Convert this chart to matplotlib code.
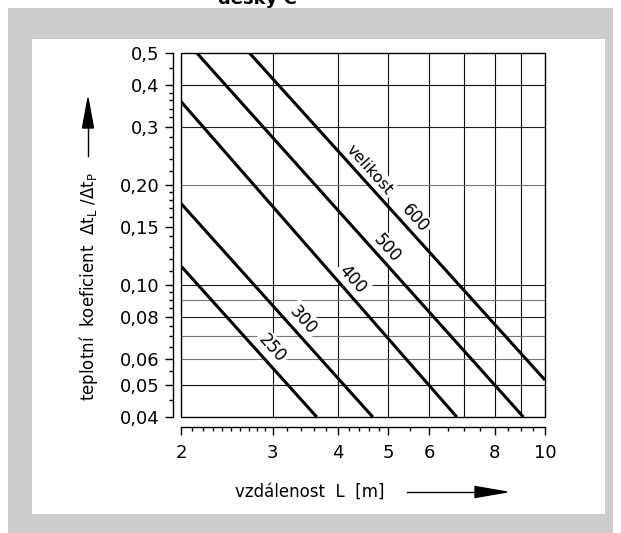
import numpy as np
import matplotlib
matplotlib.use("Agg")
import matplotlib.pyplot as plt
from matplotlib.patches import Rectangle, Polygon
from matplotlib.lines import Line2D

# ---- data ----
sizes = ["250", "300", "400", "500", "600"]
# start / end points of each line (L [m], coefficient)
L_start = [2.0, 2.0, 2.0, 2.145, 2.707]
k_start = [0.114, 0.176, 0.357, 0.5, 0.5]
L_end = [3.645, 4.67, 6.77, 9.09, 10.0]
k_end = [0.04, 0.04, 0.04, 0.04, 0.0517]

# label anchor positions (L, coefficient)
lab_L = [2.987, 3.435, 4.27, 4.97, 5.63]
lab_k = [0.0644, 0.0784, 0.1042, 0.129, 0.1588]
word_L, word_k = 4.61, 0.222

x_major = [2, 3, 4, 5, 6, 8, 10]
x_major_labels = ["2", "3", "4", "5", "6", "8", "10"]
x_minor = [2.1, 2.2, 2.3, 2.4, 2.5, 2.6, 2.7, 2.8, 2.9, 3.2, 3.4, 3.6, 3.8,
           4.2, 4.4, 4.6, 4.8, 5.5, 6.5, 7, 7.5, 8.5, 9, 9.5]
y_major = [0.04, 0.05, 0.06, 0.08, 0.10, 0.15, 0.20, 0.3, 0.4, 0.5]
y_major_labels = ["0,04", "0,05", "0,06", "0,08", "0,10", "0,15", "0,20", "0,3", "0,4", "0,5"]
y_minor = [0.045, 0.055, 0.065, 0.07, 0.075, 0.085, 0.09, 0.095, 0.11, 0.12, 0.13,
           0.14, 0.16, 0.17, 0.18, 0.19, 0.22, 0.24, 0.26, 0.28, 0.32, 0.34, 0.36,
           0.38, 0.45]
x_grid = [3, 4, 5, 6, 7, 8, 9]
y_grid = [0.05, 0.06, 0.07, 0.08, 0.09, 0.10, 0.20, 0.3, 0.4]
y_grid_col = ["#111111", "#777777", "#777777", "#222222", "#777777", "#222222",
              "#777777", "#222222", "#111111"]

plt.rcParams['font.family'] = ['DejaVu Sans']
W, H = 621, 533
fig = plt.figure(figsize=(W / 100, H / 100), dpi=100)
fig.patch.set_facecolor("white")

def fx(px):
    return px / W

def fy(py):
    return 1 - py / H

# background panels
fig.patches.append(Rectangle((fx(8), 0), fx(613) - fx(8), fy(8), transform=fig.transFigure,
                             facecolor="#cccccc", edgecolor="none", zorder=-2))
fig.patches.append(Rectangle((fx(32), fy(514)), fx(605) - fx(32), fy(39) - fy(514),
                             transform=fig.transFigure, facecolor="white",
                             edgecolor="none", zorder=-1))
fig.text(fx(257), fy(4), "desky C", ha="center", va="baseline", fontsize=13,
         fontweight="bold")

ax = fig.add_axes([fx(181), fy(417), fx(545) - fx(181), fy(53) - fy(417)])
ax.set_facecolor("none")
ax.set_xscale("log")
ax.set_yscale("log")
ax.set_xlim(2, 10)
ax.set_ylim(0.04, 0.5)

for xv in x_grid:
    ax.axvline(xv, color="#111111", lw=0.8, zorder=1)
for yv, c in zip(y_grid, y_grid_col):
    ax.axhline(yv, color=c, lw=0.8, zorder=1)

for i in range(len(sizes)):
    ax.plot([L_start[i], L_end[i]], [k_start[i], k_end[i]], color="black", lw=2.2,
            solid_capstyle="butt", zorder=4)

ang = -48
for s, lx, ly in zip(sizes, lab_L, lab_k):
    ax.text(lx, ly, s, rotation=ang, rotation_mode="anchor", ha="center", va="center",
            fontsize=12, zorder=3,
            bbox=dict(boxstyle="square,pad=0.15", facecolor="white", edgecolor="none"))
ax.text(word_L, word_k, "velikost", rotation=ang, rotation_mode="anchor", ha="center",
        va="center", fontsize=11.5, zorder=3,
        bbox=dict(boxstyle="square,pad=0.15", facecolor="white", edgecolor="none"))

# frame
ax.add_patch(Rectangle((0, 0), 1, 1, transform=ax.transAxes, fill=False,
                       edgecolor="black", lw=1.0, zorder=5, clip_on=False))
ax.spines["top"].set_visible(False)
ax.spines["right"].set_visible(False)
ax.spines["left"].set_position(("outward", 6))
ax.spines["bottom"].set_position(("outward", 7))
for sp in ("left", "bottom"):
    ax.spines[sp].set_linewidth(1.0)

ax.set_xticks(x_major)
ax.set_xticklabels(x_major_labels)
ax.set_xticks(x_minor, minor=True)
ax.set_xticklabels([], minor=True)
ax.set_yticks(y_major)
ax.set_yticklabels(y_major_labels)
ax.set_yticks(y_minor, minor=True)
ax.set_yticklabels([], minor=True)
ax.tick_params(axis="both", which="major", direction="out", length=5.5, width=1.0,
               labelsize=13)
ax.tick_params(axis="both", which="minor", direction="out", length=3.2, width=1.0)
ax.tick_params(axis="y", which="major", pad=4)
ax.tick_params(axis="x", which="major", pad=7)

# axis labels
fig.text(fx(88), fy(286),
         "teplotní  koeficient  Δt$_\\mathregular{L}$ /Δt$_\\mathregular{P}$",
         rotation=90, ha="center", va="center", fontsize=12)
fig.text(fx(310), fy(492), "vzdálenost  L  [m]", ha="center", va="center", fontsize=12)

# arrows
fig.add_artist(Line2D([fx(88), fx(88)], [fy(156), fy(126)], transform=fig.transFigure,
                      color="black", lw=1.0))
fig.add_artist(Polygon([[fx(88), fy(98)], [fx(82.5), fy(128)], [fx(93.5), fy(128)]],
                       closed=True, transform=fig.transFigure, facecolor="black",
                       edgecolor="black"))
fig.add_artist(Line2D([fx(407), fx(477)], [fy(492), fy(492)], transform=fig.transFigure,
                      color="black", lw=1.0))
fig.add_artist(Polygon([[fx(507), fy(492)], [fx(475), fy(486.5)], [fx(475), fy(497.5)]],
                       closed=True, transform=fig.transFigure, facecolor="black",
                       edgecolor="black"))

fig.savefig("out.png", dpi=100)
